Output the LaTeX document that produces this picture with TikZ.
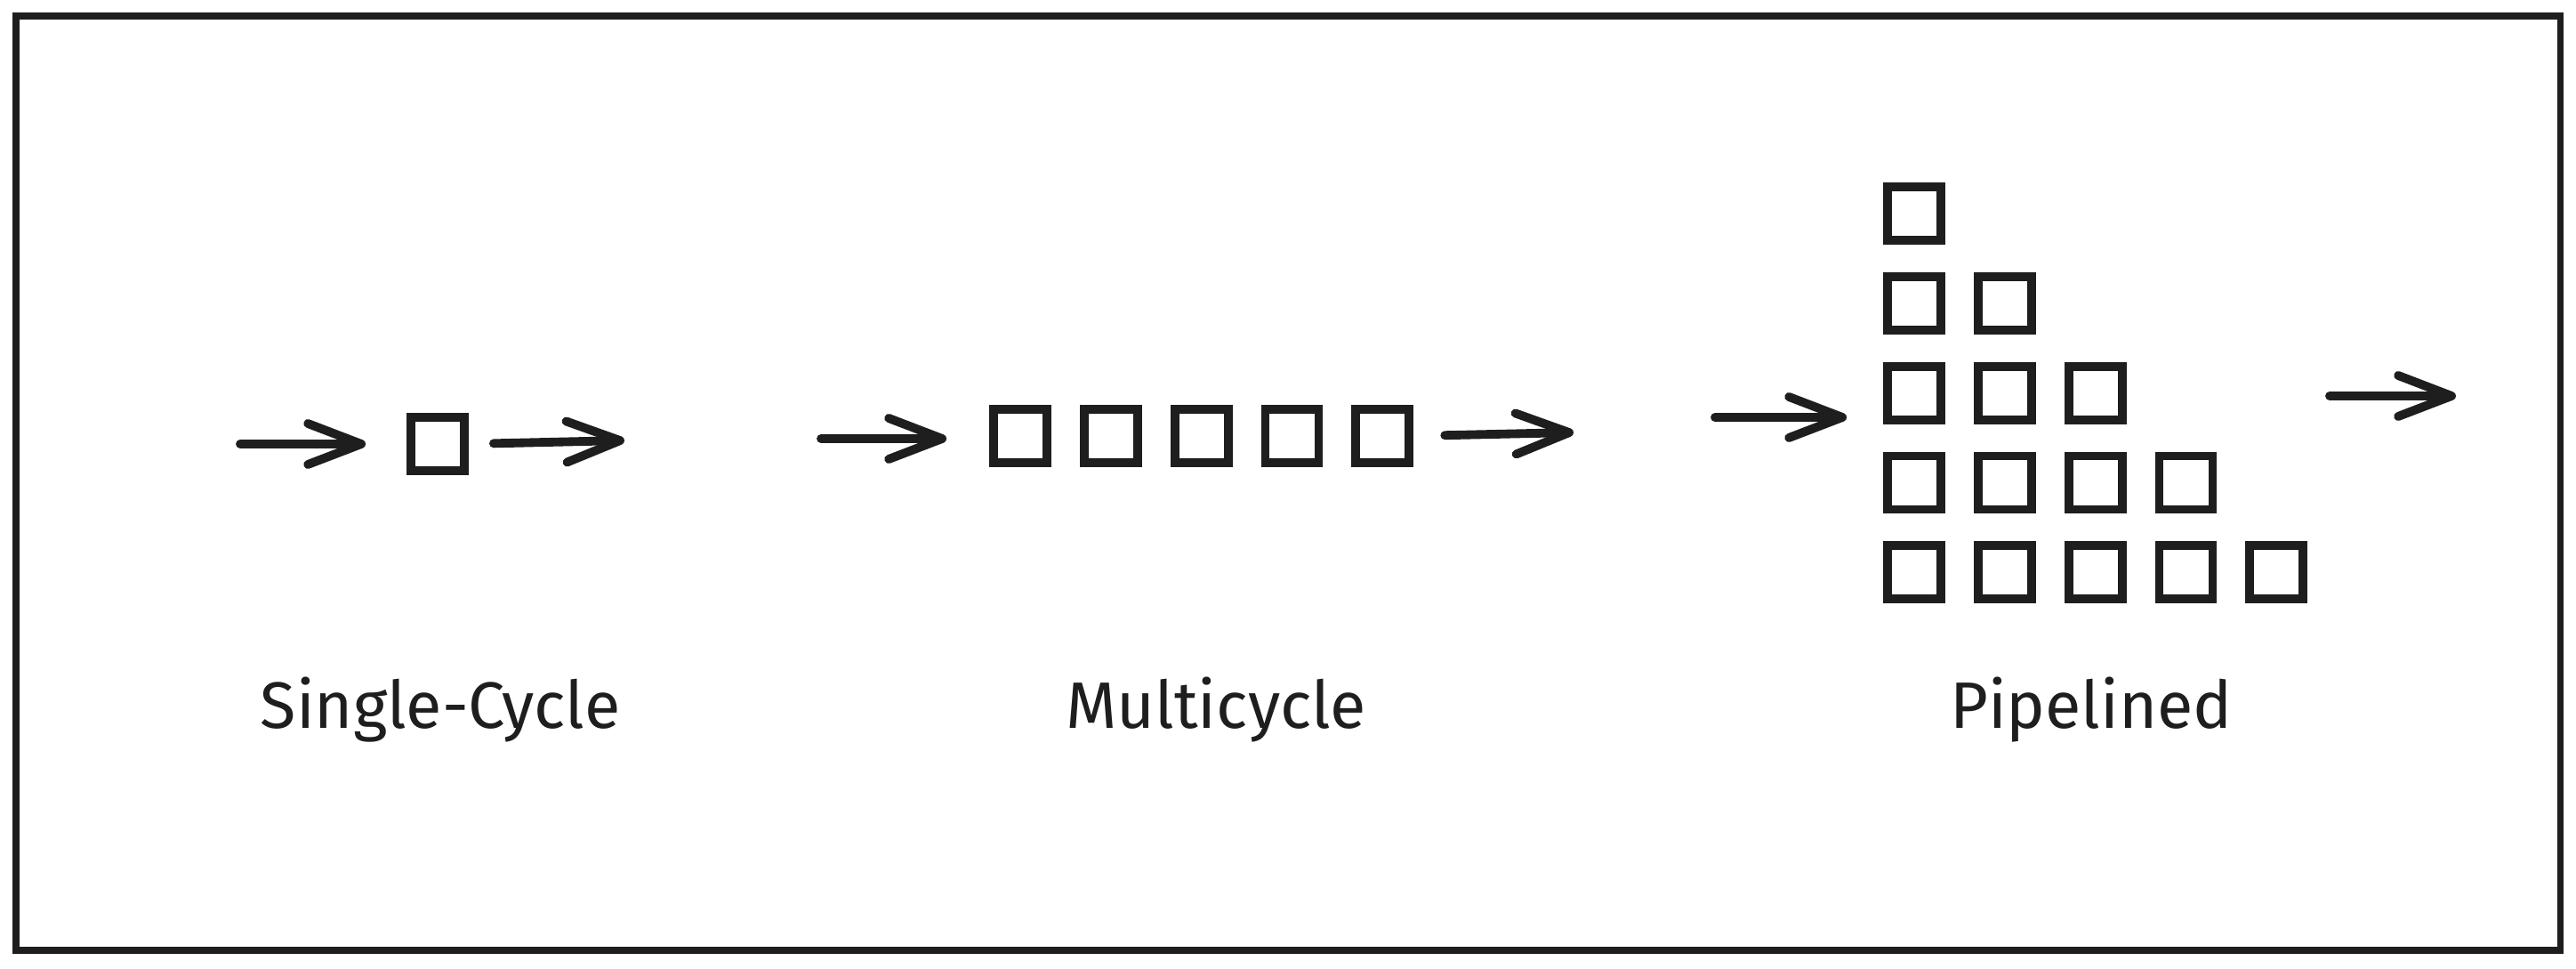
\documentclass[tikz,border=0pt]{standalone}
\usepackage{fontspec}
\setmainfont{Fira Sans}
\usepackage{xcolor}
\usetikzlibrary{arrows.meta, positioning, calc}
\definecolor{ink}{HTML}{1E1E1E}
\tikzset{
    cell/.style={
        rectangle,
        line width=2.8pt,
        draw=ink,
        minimum size=6.0mm,
        inner sep=0pt,
    },
    flow/.style={
        ->,
        line width=2.8pt,
        draw=ink,
        line cap=round,
        line join=round,
    },
    caption/.style={
        text=ink,
        font=\fontsize{21}{25}\selectfont,
    },
}

\begin{document}
\begin{tikzpicture}[node distance=3.1mm and 3.2mm,>={Straight Barb[length=6mm,width=4.6mm,round]},auto]
          \useasboundingbox (0,0) rectangle (28.96,10.88);
          \draw [ink, line width=2pt] (0.18,0.20) rectangle (28.78,10.70);

          \node [cell] (sc) at (4.92,5.89) {};
          \coordinate (sc-in) at (2.70,5.89);
          \coordinate (sc-out) at (7.02,5.93);
          \node [caption] (sc-label) at (4.95,2.90) {Single-Cycle};

          \node [cell] (m1) at (11.47,5.98) {};
          \node [cell] (m2) [right=of m1] {};
          \node [cell] (m3) [right=of m2] {};
          \node [cell] (m4) [right=of m3] {};
          \node [cell] (m5) [right=of m4] {};
          \coordinate (m-in) at (9.23,5.95);
          \coordinate (m-out) at (17.69,6.02);
          \node [caption] (m-label) at (13.67,2.90) {Multicycle};

          \node [cell] (p11) at (21.52,8.48) {};
          \node [cell] (p21) [below=of p11] {};
          \node [cell] (p22) [right=of p21] {};
          \node [cell] (p31) [below=of p21] {};
          \node [cell] (p32) [right=of p31] {};
          \node [cell] (p33) [right=of p32] {};
          \node [cell] (p41) [below=of p31] {};
          \node [cell] (p42) [right=of p41] {};
          \node [cell] (p43) [right=of p42] {};
          \node [cell] (p44) [right=of p43] {};
          \node [cell] (p51) [below=of p41] {};
          \node [cell] (p52) [right=of p51] {};
          \node [cell] (p53) [right=of p52] {};
          \node [cell] (p54) [right=of p53] {};
          \node [cell] (p55) [right=of p54] {};
          \coordinate (p-in) at (19.28,6.19);
          \coordinate (p-out-a) at (26.19,6.43);
          \coordinate (p-out-b) at (27.61,6.43);
          \node [caption] (p-label) at (23.51,2.90) {Pipelined};

          \draw [flow, shorten >=4.6mm] (sc-in) -- (sc.west);
          \draw [flow, shorten <=2.8mm] (sc.east) -- (sc-out);
          \draw [flow, shorten >=4.8mm] (m-in) -- (m1.west |- m-in);
          \draw [flow, shorten <=3.5mm] (m5.east) -- (m-out);
          \draw [flow, shorten >=4.1mm] (p-in) -- (p31.west |- p-in);
          \draw [flow] (p-out-a) -- (p-out-b);
        \end{tikzpicture}
\end{document}
